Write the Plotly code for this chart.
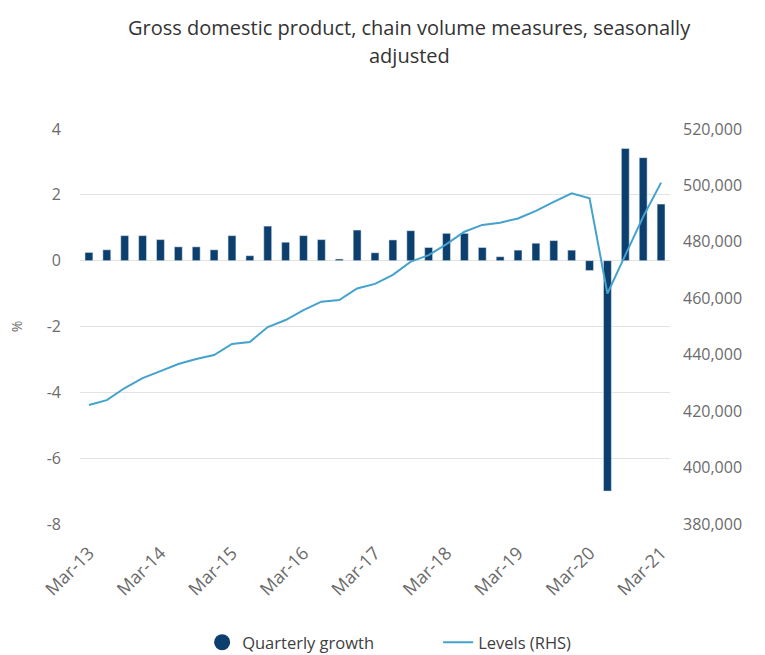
import plotly.graph_objects as go

# Quarter labels, Mar-13 to Mar-21
years = list(range(13, 22))
months = ["Mar", "Jun", "Sep", "Dec"]
quarters = [f"{m}-{y}" for y in years for m in months][:33]
tick_labels = [f"Mar-{y}" for y in years]

# Left-axis ticks (%), written with a plain hyphen
pct_ticks = [-8, -6, -4, -2, 0, 2, 4]
pct_labels = ["-8", "-6", "-4", "-2", "0", "2", "4"]

# Quarterly growth, %
growth = [0.25, 0.33, 0.76, 0.76, 0.64, 0.42, 0.42, 0.33, 0.76, 0.15,
          1.05, 0.56, 0.76, 0.64, 0.05, 0.93, 0.24, 0.63, 0.91, 0.40,
          0.83, 0.83, 0.40, 0.12, 0.32, 0.53, 0.61, 0.32, -0.30, -7.00,
          3.41, 3.13, 1.72]

# GDP level, $m (right-hand scale)
levels = [422200, 423900, 428200, 431700, 434200, 436700, 438500, 439900,
          443800, 444500, 449800, 452300, 455800, 458800, 459400, 463500,
          465100, 468300, 473000, 475300, 479200, 483600, 486000, 486800,
          488300, 491000, 494200, 497200, 495400, 461700, 475300, 488900,
          501000]

BAR = "#0d3f6e"
LINE = "#45a2cc"
FONT = "Open Sans, Segoe UI, sans-serif"
GREY = "#6b6b6b"

fig = go.Figure()
fig.add_trace(go.Bar(x=quarters, y=growth, marker_color=BAR, width=0.44,
                     name="Quarterly growth", showlegend=False))
# legend entry drawn as a round swatch
fig.add_trace(go.Scatter(x=[None], y=[None], mode="markers",
                         marker=dict(symbol="circle", size=22, color=BAR),
                         name="Quarterly growth"))
fig.add_trace(go.Scatter(x=quarters, y=levels, mode="lines", yaxis="y2",
                         line=dict(color=LINE, width=2),
                         name="Levels (RHS)"))

fig.update_layout(
    width=765, height=655,
    margin=dict(l=80, r=95, t=129, b=131, autoexpand=False),
    paper_bgcolor="white", plot_bgcolor="white",
    font=dict(family=FONT, size=15, color=GREY),
    xaxis=dict(type="category", tickmode="array", tickvals=tick_labels,
               ticktext=tick_labels, tickangle=-45, showgrid=False,
               showline=False, ticks="", automargin=False,
               ticklabelstandoff=14,
               tickfont=dict(size=18, color=GREY)),
    yaxis=dict(range=[-8, 4], tickmode="array", tickvals=pct_ticks,
               ticktext=pct_labels, showgrid=True, gridcolor="#e3e3e3",
               zeroline=False, ticks="", automargin=False,
               ticklabelstandoff=18,
               title=dict(text="%", standoff=20, font=dict(size=14, color=GREY)),
               tickfont=dict(size=16, color=GREY)),
    yaxis2=dict(range=[380000, 520000], dtick=20000, overlaying="y",
                side="right", showgrid=False, zeroline=False, automargin=False,
                ticklabelstandoff=12,
                tickformat=",d", tickfont=dict(size=16, color=GREY)),
    legend=dict(orientation="h", x=0.207, xanchor="left", y=-0.30,
                yanchor="middle", font=dict(size=16.5, color="#404040"),
                itemwidth=30, entrywidth=191),
    annotations=[
        dict(text="Gross domestic product, chain volume measures, seasonally",
             xref="paper", yref="paper", x=0.558, y=1.0, yshift=102,
             showarrow=False, xanchor="center", yanchor="middle",
             font=dict(size=20, color="#333333", family=FONT, weight=500)),
        dict(text="adjusted",
             xref="paper", yref="paper", x=0.558, y=1.0, yshift=74,
             showarrow=False, xanchor="center", yanchor="middle",
             font=dict(size=20, color="#333333", family=FONT, weight=500)),
    ],
)

fig.write_html("out.html")
